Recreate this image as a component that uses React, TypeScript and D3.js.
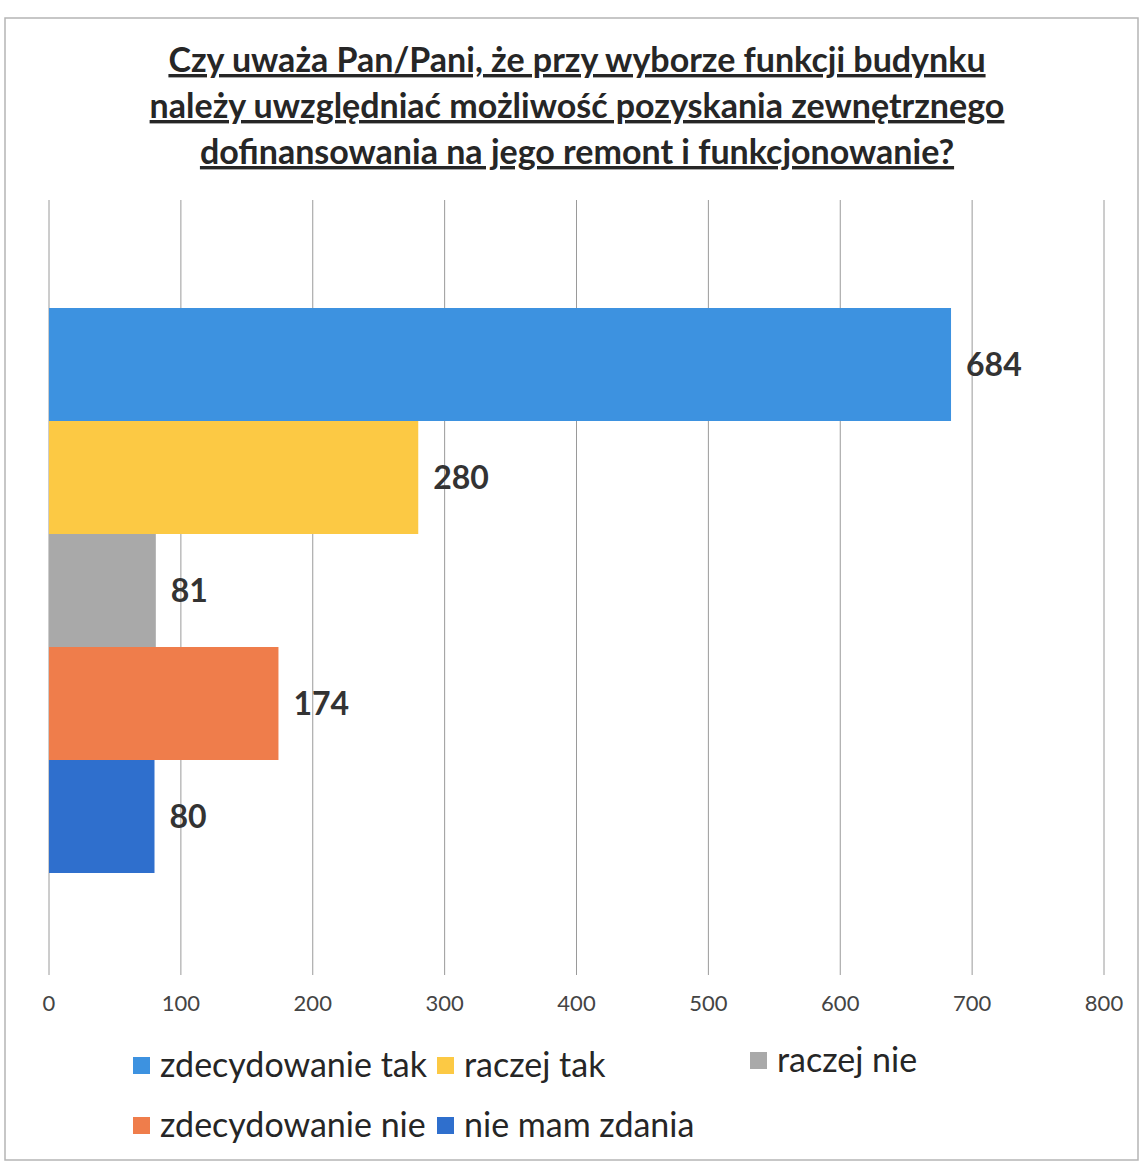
import React, { useEffect } from "react";
import * as d3 from "d3";

const titleLines = [
  "Czy uważa Pan/Pani, że przy wyborze funkcji budynku",
  "należy uwzględniać możliwość pozyskania zewnętrznego",
  "dofinansowania na jego remont i funkcjonowanie?",
];
const categories = [
  "zdecydowanie tak",
  "raczej tak",
  "raczej nie",
  "zdecydowanie nie",
  "nie mam zdania",
];
const values = [684, 280, 81, 174, 80];
const colors = ["#3d92e0", "#fcc944", "#a9a9a9", "#ef7d4b", "#2f6fcd"];
const xTicks = [0, 100, 200, 300, 400, 500, 600, 700, 800];

const W = 1139;
const H = 1167;

export default function App() {
  useEffect(() => {
    document.body.style.margin = "0";
  }, []);

  const x = d3.scaleLinear().domain([0, 800]).range([49, 1104]);
  const plotTop = 200;
  const plotBottom = 975;
  const y = d3.scaleBand<string>().domain(categories).range([308, 873]).padding(0);

  const legendPos = [
    { x: 133, y: 1066 },
    { x: 437, y: 1066 },
    { x: 750, y: 1061 },
    { x: 133, y: 1126 },
    { x: 437, y: 1126 },
  ];

  const font = "Lato, 'Open Sans', sans-serif";

  return (
    <svg width={W} height={H} style={{ display: "block", background: "#fff" }}>
      <rect x={5} y={18} width={W - 6} height={1142} fill="none" stroke="#b5b5b5" strokeWidth={1.5} />
      {titleLines.map((t, i) => (
        <text
          key={i}
          x={577}
          y={72 + i * 46}
          textAnchor="middle"
          fontFamily={font}
          fontWeight="bold"
          fontSize={34}
          fill="#262626"
          textDecoration="underline"
        >
          {t}
        </text>
      ))}
      {xTicks.map((t) => (
        <g key={t}>
          <line x1={x(t)} x2={x(t)} y1={plotTop} y2={plotBottom} stroke="#9a9a9a" strokeWidth={1} />
          <text
            x={x(t)}
            y={1011}
            textAnchor="middle"
            fontFamily={font}
            fontSize={22}
            fill="#444"
          >
            {t}
          </text>
        </g>
      ))}
      {categories.map((c, i) => (
        <g key={c}>
          <rect
            x={x(0)}
            y={y(c)!}
            width={x(values[i]) - x(0)}
            height={y.bandwidth()}
            fill={colors[i]}
          />
          <text
            x={x(values[i]) + 15}
            y={y(c)! + y.bandwidth() / 2 + 11}
            fontFamily={font}
            fontWeight="bold"
            fontSize={32}
            fill="#333"
          >
            {values[i]}
          </text>
        </g>
      ))}
      {categories.map((c, i) => (
        <g key={"l" + c} transform={`translate(${legendPos[i].x},${legendPos[i].y})`}>
          <rect x={0} y={-9} width={17} height={17} fill={colors[i]} />
          <text x={27} y={11} fontFamily={font} fontSize={34} fill="#262626">
            {c}
          </text>
        </g>
      ))}
    </svg>
  );
}
